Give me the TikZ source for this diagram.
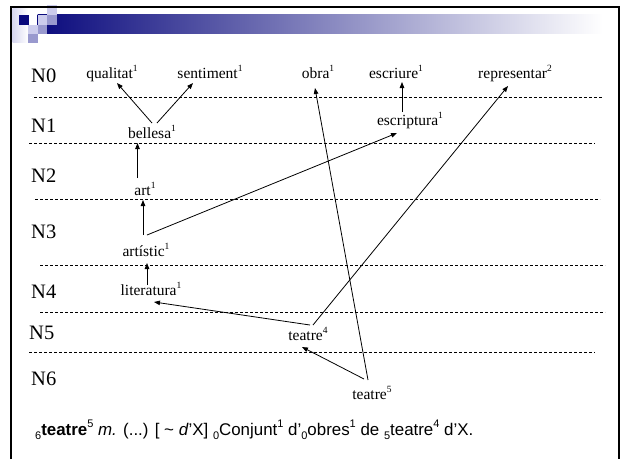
\documentclass[tikz,border=0pt]{standalone}
\usepackage{fontspec}
\setmainfont{Liberation Serif}
\newfontfamily\sansf{Liberation Sans}
\usetikzlibrary{arrows.meta}
\definecolor{navyb}{RGB}{10,10,125}
\definecolor{lightsq}{RGB}{204,204,236}
\definecolor{medsq}{RGB}{153,153,206}
\newcommand\spx[1]{\raisebox{0.42em}{\fontsize{9.5}{9.5}\selectfont #1}}
\newcommand\ssup[1]{\raisebox{0.45em}{\fontsize{11}{11}\selectfont #1}}
\newcommand\ssub[1]{\raisebox{-0.28em}{\fontsize{11}{11}\selectfont #1}}
\tikzset{
  lvl/.style={anchor=base west, inner sep=0pt, font=\fontsize{20.5}{22}\selectfont},
  word/.style={anchor=base, inner sep=0pt, font=\fontsize{15.5}{17}\selectfont},
  sep/.style={line width=0.8pt, dash pattern=on 3pt off 2pt},
  conn/.style={line width=0.8pt, -{Triangle[length=6pt,width=4.5pt]}},
}
\begin{document}
\begin{tikzpicture}[x=1pt,y=-1pt]
\useasboundingbox (0,0) rectangle (620,459);
\fill[white] (0,0) rectangle (620,459);
% header
\shade[left color=lightsq!80, right color=white] (12.5,8) rectangle (28,42);
\shade[left color=navyb, right color=white] (37.5,14) rectangle (603,33.5);
\fill[navyb] (18.5,15) rectangle (28.5,25);
\fill[lightsq] (37.5,15) rectangle (47,24.5);
\fill[lightsq] (47,5) rectangle (57,15);
\fill[medsq] (47,15) rectangle (57,25);
\fill[lightsq] (28,24.5) rectangle (37.5,33.5);
\fill[medsq] (37.5,24.5) rectangle (47,33.5);
\fill[medsq] (28,33.5) rectangle (37.5,43);
% frame
\draw[line width=2.5pt] (11,459) -- (11,7) -- (620,7);
\draw[line width=1.3pt] (619,7) -- (619,459);
% separators
\draw[sep] (34,97) -- (602,97);
\draw[sep] (29,143) -- (595,143);
\draw[sep] (35,199) -- (600,199);
\draw[sep] (40,265) -- (605,265);
\draw[sep] (40,312) -- (605,312);
\draw[sep] (29,352) -- (595,352);
% level labels
\node[lvl] (n0) at (31,82.5) {N0};
\node[lvl] (n1) at (31,132) {N1};
\node[lvl] (n2) at (31,182) {N2};
\node[lvl] (n3) at (31,238) {N3};
\node[lvl] (n4) at (31,298) {N4};
\node[lvl] (n5) at (29,339) {N5};
\node[lvl] (n6) at (31,385) {N6};
% words
\node[word] (qual) at (112,78) {qualitat\spx{1}};
\node[word] (sent) at (210,78) {sentiment\spx{1}};
\node[word] (obra) at (318,78) {obra\spx{1}};
\node[word] (escr) at (396,78) {escriure\spx{1}};
\node[word] (repr) at (515,78) {representar\spx{2}};
\node[word] (bell) at (152,138) {bellesa\spx{1}};
\node[word] (escp) at (410,125) {escriptura\spx{1}};
\node[word] (art) at (145,195) {art\spx{1}};
\node[word] (arts) at (146,256) {artístic\spx{1}};
\node[word] (lit) at (151,295) {literatura\spx{1}};
\node[word] (tea4) at (308,340) {teatre\spx{4}};
\node[word] (tea5) at (372,399) {teatre\spx{5}};
% connectors
\draw[conn] ([shift={(0,-15)}]bell.base) -- ([shift={(5,5)}]qual.base);
\draw[conn] ([shift={(5,-15)}]bell.base) -- ([shift={(-17,5)}]sent.base);
\draw[conn] ([shift={(-7.5,-17)}]art.base) -- ([shift={(-14.5,5)}]bell.base);
\draw[conn] ([shift={(-3,-21)}]arts.base) -- ([shift={(-2,5)}]art.base);
\draw[conn] ([shift={(1,-21)}]arts.base) -- ([shift={(-13,8)}]escp.base);
\draw[conn] ([shift={(-8,-13)}]escp.base) -- ([shift={(6,4)}]escr.base);
\draw[conn] ([shift={(-4,-10)}]lit.base) -- ([shift={(1,7)}]arts.base);
\draw[conn] ([shift={(2,-15)}]tea4.base) -- ([shift={(3,7)}]lit.base);
\draw[conn] ([shift={(5,-15)}]tea4.base) -- ([shift={(-7,8)}]repr.base);
\draw[conn] ([shift={(-4,-19)}]tea5.base) -- ([shift={(-3,10)}]obra.base);
\draw[conn] ([shift={(-8,-20)}]tea5.base) -- ([shift={(-6,7)}]tea4.base);
% definition
\node[anchor=base west, inner sep=0pt, font=\sansf\fontsize{16.9}{19}\selectfont] (def) at (35,435)
  {\ssub{6}\textbf{teatre}\ssup{5} \textit{m.} (...) [ \char`\~{} \textit{d}’X] \ssub{0}Conjunt\ssup{1} d’\ssub{0}obres\ssup{1} de \ssub{5}teatre\ssup{4} d’X.};
\end{tikzpicture}
\end{document}
